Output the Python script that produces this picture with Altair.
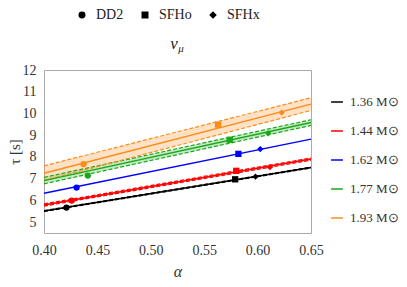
import altair as alt
import pandas as pd

# ---- data ----
masses = ["1.36", "1.44", "1.62", "1.77", "1.93"]
mass_labels = [m + " M⊙" for m in masses]
colors = ["#000000", "#ff0000", "#0000ff", "#1aa81a", "#ff8c1a"]

alpha_ends = [0.40, 0.65]
tau_start = [5.51, 5.79, 6.33, 6.91, 7.25]
tau_end = [7.51, 7.90, 8.82, 9.58, 10.43]
band_half_start = [0.02, 0.05, 0.0, 0.15, 0.34]
band_half_end = [0.02, 0.05, 0.0, 0.13, 0.29]

eos = ["DD2", "SFHo", "SFHx"]
point_alpha = [
    [0.421, 0.579, 0.598],
    [0.426, 0.580, 0.6115],
    [0.4305, 0.582, 0.6025],
    [0.441, 0.574, 0.610],
    [0.437, 0.563, 0.6225],
]
point_tau = [
    [5.67, 6.97, 7.09],
    [5.99, 7.36, 7.53],
    [6.59, 8.14, 8.36],
    [7.14, 8.79, 9.09],
    [7.67, 9.48, 10.04],
]
x_ticks = [0.40, 0.45, 0.50, 0.55, 0.60, 0.65]
y_ticks = [5, 6, 7, 8, 9, 10, 11, 12]

# ---- tables ----
line_rows = []
for i, lab in enumerate(mass_labels):
    for a, t, h in zip(alpha_ends, [tau_start[i], tau_end[i]],
                       [band_half_start[i], band_half_end[i]]):
        line_rows.append({"mass": lab, "alpha": a, "tau": t, "lo": t - h, "hi": t + h, "half": h})
lines = pd.DataFrame(line_rows)
bands = lines[lines["half"] > 0]

dash_rows = []
for _, r in bands.iterrows():
    dash_rows.append({"mass": r["mass"], "alpha": r["alpha"], "tau": r["lo"], "side": "lo"})
    dash_rows.append({"mass": r["mass"], "alpha": r["alpha"], "tau": r["hi"], "side": "hi"})
dashes = pd.DataFrame(dash_rows)

pt_rows = []
for i, lab in enumerate(mass_labels):
    for j, e in enumerate(eos):
        pt_rows.append({"mass": lab, "eos": e, "alpha": point_alpha[i][j], "tau": point_tau[i][j]})
points = pd.DataFrame(pt_rows)

FONT = "Liberation Serif"
W, H = 267, 163

xscale = alt.Scale(domain=[0.40, 0.65], nice=False, zero=False)
yscale = alt.Scale(domain=[4.5, 12], nice=False, zero=False)
cscale = alt.Scale(domain=mass_labels, range=colors)

xaxis = alt.Axis(values=x_ticks, format=".2f", title="α",
                 ticks=False, domain=False, grid=False, labelFont=FONT, labelFontSize=14,
                 labelColor="#333333", labelPadding=10, titleFont=FONT, titleFontSize=16,
                 titleFontStyle="italic", titleFontWeight="normal", titlePadding=6,
                 titleColor="#333333", labelFlush=False, labelOverlap=False)
yaxis = alt.Axis(values=y_ticks, format="d", title="τ [s]",
                 ticks=False, domain=False, grid=False, labelFont=FONT, labelFontSize=14,
                 labelColor="#333333", labelPadding=8, titleFont=FONT, titleFontSize=15,
                 titleFontWeight="normal", titlePadding=0, titleColor="#333333",
                 labelFlush=False, labelOverlap=False)

color_legend = alt.Legend(orient="none", legendX=286, legendY=25, title=None,
                          symbolType="stroke", symbolSize=140, symbolStrokeWidth=1.5,
                          symbolOpacity=1, labelFont=FONT, labelFontSize=13,
                          labelColor="#333333", rowPadding=15, labelOffset=6, labelLimit=200)

X = lambda f: alt.X(f, scale=xscale, axis=xaxis)
Y = lambda f: alt.Y(f, scale=yscale, axis=yaxis)

band = alt.Chart(bands).mark_area(opacity=0.25).encode(
    x=X("alpha:Q"),
    y=Y("lo:Q"),
    y2="hi:Q",
    color=alt.Color("mass:N", scale=cscale, legend=color_legend),
    detail="mass:N",
)

dash = alt.Chart(dashes).mark_line(strokeDash=[4, 2], strokeWidth=1.2).encode(
    x=X("alpha:Q"),
    y=Y("tau:Q"),
    color=alt.Color("mass:N", scale=cscale, legend=color_legend),
    detail="side:N",
)

center = alt.Chart(lines).mark_line(strokeWidth=1.5).encode(
    x=X("alpha:Q"),
    y=Y("tau:Q"),
    color=alt.Color("mass:N", scale=cscale, legend=color_legend),
)

pts = alt.Chart(points).mark_point(filled=True, opacity=1, size=40).encode(
    x=X("alpha:Q"),
    y=Y("tau:Q"),
    color=alt.Color("mass:N", scale=cscale, legend=color_legend),
    shape=alt.Shape("eos:N", scale=alt.Scale(domain=eos, range=["circle", "square", "diamond"]),
                    legend=alt.Legend(orient="none", legendX=31, legendY=-62, title=None,
                                      direction="horizontal", symbolFillColor="black",
                                      symbolStrokeColor="black", symbolSize=30,
                                      labelFont=FONT, labelFontSize=14, labelColor="#222222",
                                      columnPadding=14, labelOffset=7)),
)

title_df = pd.DataFrame({"t": ["ν"]})
sub_df = pd.DataFrame({"t": ["μ"]})
title_nu = alt.Chart(title_df).mark_text(font=FONT, fontSize=17, fontStyle="italic",
                                         align="center", baseline="middle", color="#222222").encode(
    text="t:N", x=alt.value(130), y=alt.value(-26))
title_mu = alt.Chart(sub_df).mark_text(font=FONT, fontSize=11, fontStyle="italic",
                                       align="center", baseline="middle", color="#222222").encode(
    text="t:N", x=alt.value(137), y=alt.value(-21))

chart = alt.layer(band, dash, center, pts, title_nu, title_mu).properties(
    width=W, height=H,
    autosize=alt.AutoSizeParams(type="none"),
    padding={"left": 36, "top": 62, "right": 88, "bottom": 48},
).configure_view(stroke="#aaaaaa", strokeWidth=1).configure_axis(
    labelOverlap=False, labelFont=FONT, titleFont=FONT
).configure_legend(labelFont=FONT)

chart.save("out.html", embed_options={"renderer": "svg", "actions": False})
